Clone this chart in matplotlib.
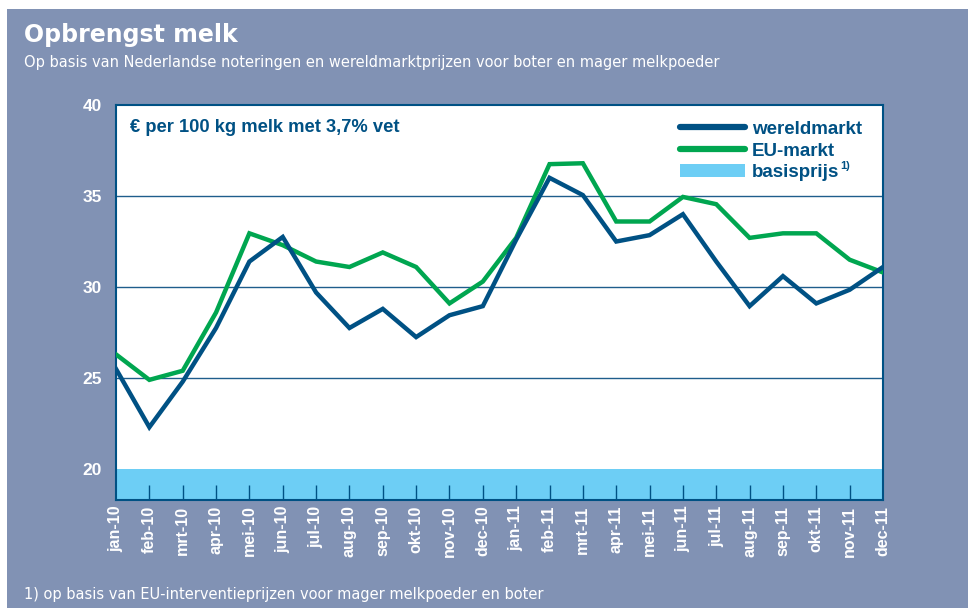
import matplotlib
matplotlib.use("Agg")
import matplotlib.pyplot as plt
from matplotlib.lines import Line2D
from matplotlib.patches import Patch, Rectangle

# ---- data ----
months = ["jan-10", "feb-10", "mrt-10", "apr-10", "mei-10", "jun-10",
          "jul-10", "aug-10", "sep-10", "okt-10", "nov-10", "dec-10",
          "jan-11", "feb-11", "mrt-11", "apr-11", "mei-11", "jun-11",
          "jul-11", "aug-11", "sep-11", "okt-11", "nov-11", "dec-11"]
wereldmarkt = [25.5, 22.3, 24.8, 27.75, 31.4, 32.75, 29.7, 27.75, 28.8, 27.25, 28.45, 28.95,
               32.6, 36.0, 35.05, 32.5, 32.85, 34.0, 31.4, 28.95, 30.6, 29.1, 29.85, 31.1]
eu_markt = [26.3, 24.9, 25.4, 28.6, 32.95, 32.3, 31.4, 31.1, 31.9, 31.1, 29.1, 30.3,
            32.7, 36.75, 36.8, 33.6, 33.6, 34.95, 34.55, 32.7, 32.95, 32.95, 31.5, 30.8]
basisprijs = [20.0] * 24

BG = "#8192b4"
DARK = "#005184"
GREEN = "#00a650"
LIGHT = "#6dcef5"

plt.rcParams["font.family"] = ["Liberation Sans", "DejaVu Sans"]

fig = plt.figure(figsize=(9.68, 6.09), dpi=100)
fig.patch.set_facecolor("white")
fig.patches.append(Rectangle((7 / 968, 0.002), 1, 1 - 9 / 609 - 0.002,
                             transform=fig.transFigure, facecolor=BG,
                             edgecolor="none", zorder=-10))

ax = fig.add_axes([116 / 968, 1 - 500 / 609, (883 - 116) / 968, (500 - 105) / 609])
ax.set_facecolor("white")

x = list(range(len(months)))
ymin = 18.3
ax.fill_between(x, ymin, basisprijs, color=LIGHT, lw=0, zorder=1)
for g in [25, 30, 35]:
    ax.axhline(g, color="#1f5d8c", lw=1, zorder=2)
ax.plot(x, wereldmarkt, color=DARK, lw=3.2, zorder=4, solid_joinstyle="miter")
ax.plot(x, eu_markt, color=GREEN, lw=3.2, zorder=3, solid_joinstyle="miter")

ax.set_xlim(0, len(months) - 1)
ax.set_ylim(ymin, 40)
ax.set_yticks([20, 25, 30, 35, 40])
ax.tick_params(axis="y", length=0, pad=10, labelcolor="white", labelsize=12.5)
for lab in ax.get_yticklabels():
    lab.set_fontweight("bold")

ax.set_xticks(x)
ax.set_xticklabels(months, rotation=90, color="white", fontsize=11.5, fontweight="bold")
ax.tick_params(axis="x", direction="in", length=11, width=1, color=DARK, pad=4)
ticks = ax.xaxis.get_major_ticks()
ticks[0].tick1line.set_visible(False)
ticks[-1].tick1line.set_visible(False)

for s in ax.spines.values():
    s.set_color(DARK)
    s.set_linewidth(1.5)

ax.text(0.018, 0.965, "€ per 100 kg melk met 3,7% vet", transform=ax.transAxes,
        color=DARK, fontsize=13.2, fontweight="bold", va="top", ha="left")

handles = [Line2D([], [], color=DARK, lw=4.5, solid_capstyle="round"),
           Line2D([], [], color=GREEN, lw=4.5, solid_capstyle="round"),
           Patch(facecolor=LIGHT, edgecolor="none")]
labels = ["wereldmarkt", "EU-markt", "basisprijs"]
leg = ax.legend(handles, labels, loc="upper right", bbox_to_anchor=(0.993, 1.0),
                frameon=False, handlelength=3.45, handleheight=0.68,
                handletextpad=0.35, labelspacing=0.25, borderaxespad=0.45,
                prop={"weight": "bold", "size": 13.5})
for t in leg.get_texts():
    t.set_color(DARK)

# superscript footnote marker after "basisprijs"
fig.canvas.draw()
bb = leg.get_texts()[2].get_window_extent()
fig.text((bb.x1 + 1) / fig.bbox.width, (bb.y1 + 3) / fig.bbox.height, "1)",
         color=DARK, fontsize=8, fontweight="bold", va="top", ha="left")

fig.text(24 / 968, 1 - 35 / 609, "Opbrengst melk", color="white", fontsize=17,
         fontweight="bold", family="DejaVu Sans", va="center", ha="left")
fig.text(24 / 968, 1 - 62 / 609,
         "Op basis van Nederlandse noteringen en wereldmarktprijzen voor boter en mager melkpoeder",
         color="white", fontsize=10.5, family="DejaVu Sans", va="center", ha="left")
fig.text(24 / 968, 1 - 595 / 609,
         "1) op basis van EU-interventieprijzen voor mager melkpoeder en boter",
         color="white", fontsize=10.5, family="DejaVu Sans", va="center", ha="left")

fig.savefig("out.png", dpi=100, facecolor=fig.get_facecolor())
